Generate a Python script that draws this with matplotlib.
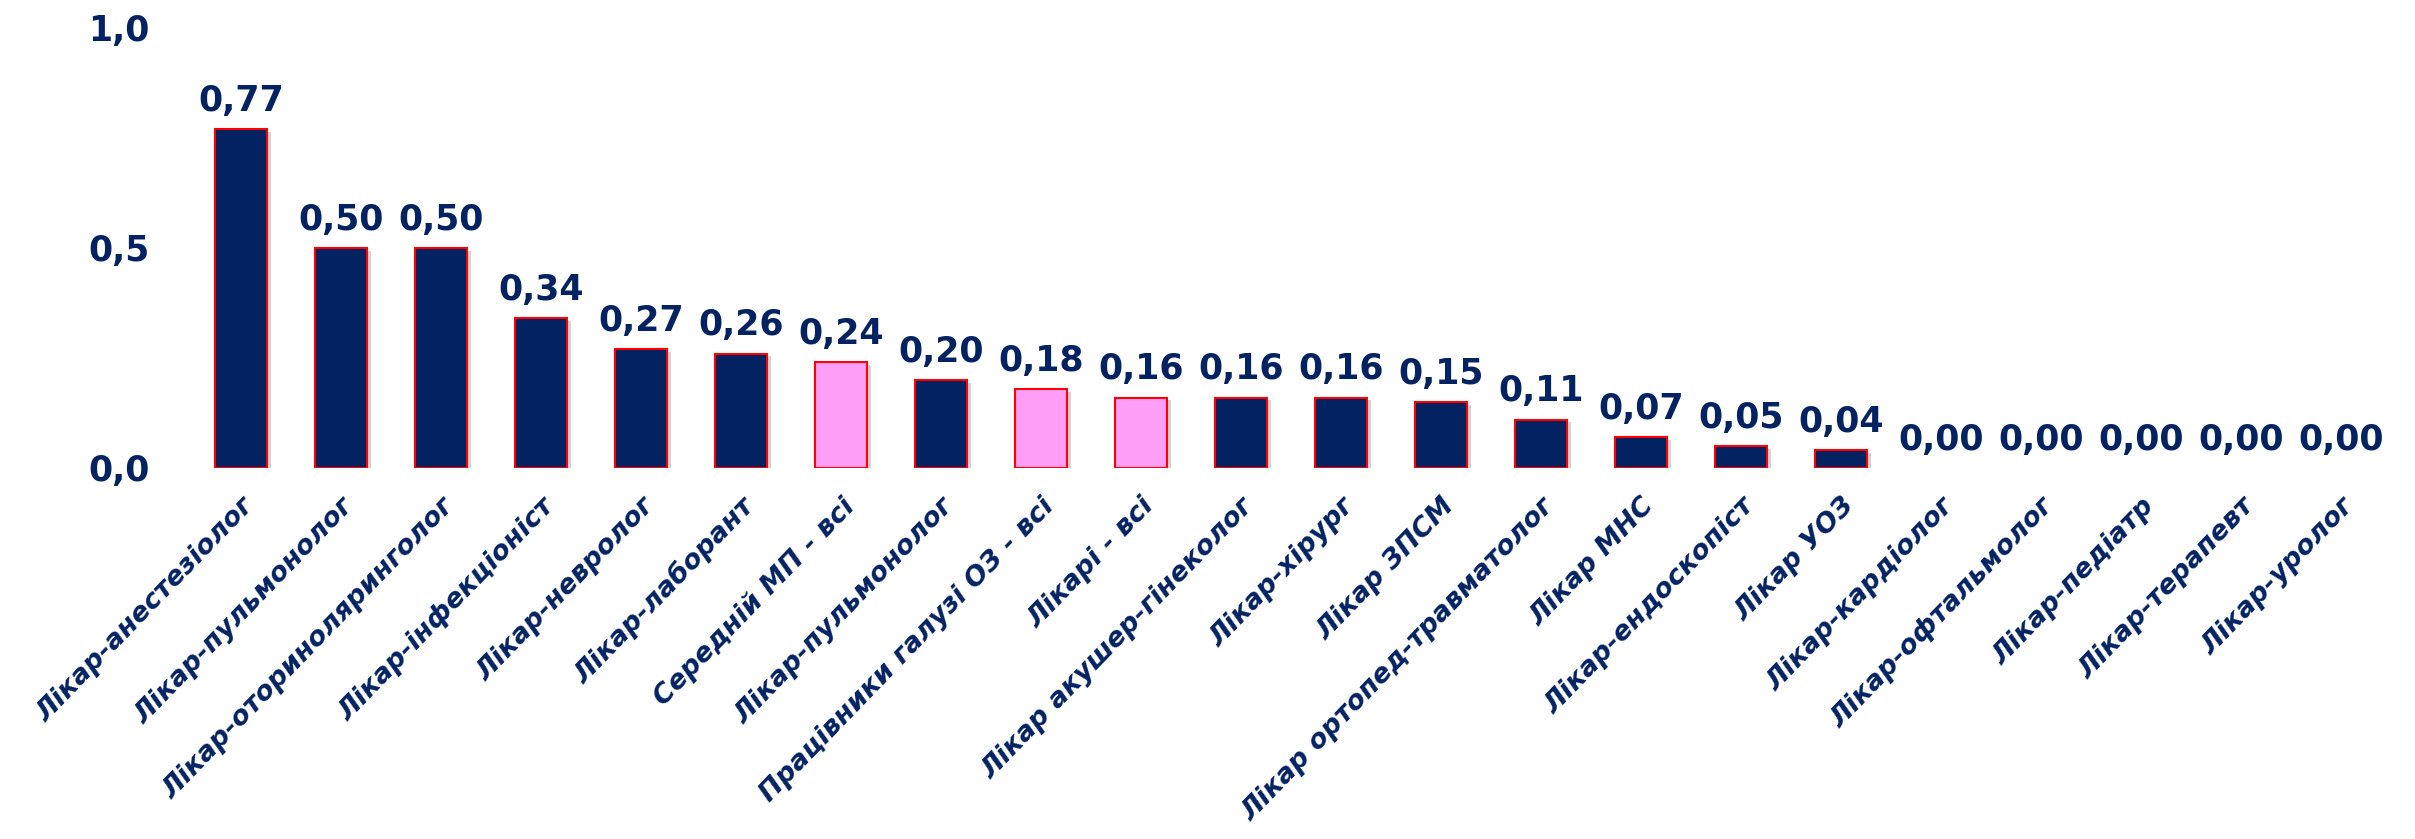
import matplotlib.pyplot as plt
import matplotlib.patheffects as pe

categories = [
    "Лікар-анестезіолог", "Лікар-пульмонолог", "Лікар-оториноляринголог",
    "Лікар-інфекціоніст", "Лікар-невролог", "Лікар-лаборант",
    "Середній МП - всі", "Лікар-пульмонолог", "Працівники галузі ОЗ - всі",
    "Лікарі - всі", "Лікар акушер-гінеколог", "Лікар-хірург", "Лікар ЗПСМ",
    "Лікар ортопед-травматолог", "Лікар МНС", "Лікар-ендоскопіст",
    "Лікар УОЗ", "Лікар-кардіолог", "Лікар-офтальмолог", "Лікар-педіатр",
    "Лікар-терапевт", "Лікар-уролог",
]
values = [0.77, 0.50, 0.50, 0.34, 0.27, 0.26, 0.24, 0.20, 0.18, 0.16, 0.16,
          0.16, 0.15, 0.11, 0.07, 0.05, 0.04, 0.00, 0.00, 0.00, 0.00, 0.00]
# групи "всі" виділені рожевим
highlight = [6, 8, 9]
yticks = [0.0, 0.5, 1.0]

NAVY = "#032262"
PINK = "#FF9EF7"

plt.rcParams['font.family'] = ['DejaVu Sans']

fig = plt.figure(figsize=(24.15, 8.39), dpi=100)
ax = fig.add_axes([180 / 2415, 1 - 468 / 839, (2400 - 180) / 2415, 440 / 839])

x = list(range(len(values)))
colors = [PINK if i in highlight else NAVY for i in x]
widths = [1.5 if v > 0 else 0 for v in values]
bars = ax.bar(x, values, width=0.52, color=colors, edgecolor="red",
              linewidth=widths, zorder=3)
for b in bars:
    b.set_path_effects([pe.SimplePatchShadow(offset=(3, -2), alpha=0.25,
                                             shadow_rgbFace="#555555"),
                        pe.Normal()])

for xi, v in zip(x, values):
    ax.annotate("{:.2f}".format(v).replace(".", ","), (xi, v),
                xytext=(0, 8), textcoords="offset points",
                ha="center", va="bottom", fontsize=25, fontweight="bold",
                color=NAVY)

ax.set_xlim(-(241 - 180) / 100, (2400 - 241) / 100)
ax.set_ylim(0, 1)
ax.set_yticks(yticks)
ax.set_yticklabels(["{:.1f}".format(t).replace(".", ",") for t in yticks],
                   fontsize=25, fontweight="bold", color=NAVY)
ax.set_xticks(x)
ax.set_xticklabels(categories, rotation=46, ha="right", rotation_mode="anchor",
                   fontsize=19.5, fontweight="bold", style="italic", color=NAVY)
ax.tick_params(axis="both", length=0)
ax.tick_params(axis="x", pad=18)
ax.tick_params(axis="y", pad=22)
for s in ax.spines.values():
    s.set_visible(False)

fig.savefig("out.png", dpi=100)
